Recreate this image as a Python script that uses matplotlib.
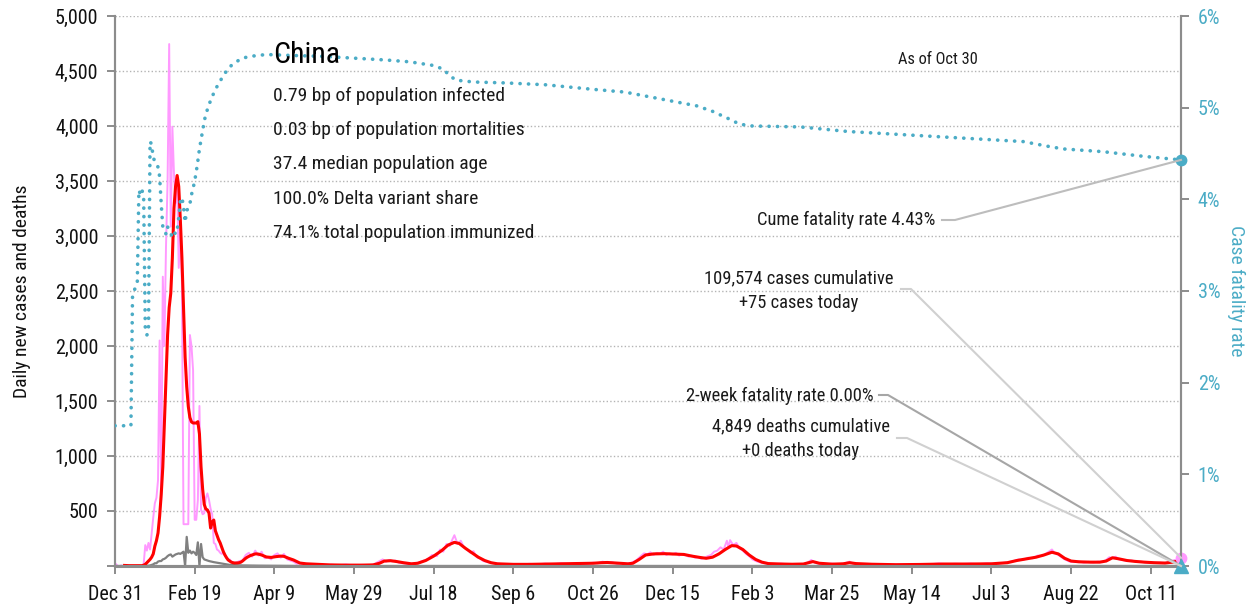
import numpy as np
import matplotlib
matplotlib.use("Agg")
import matplotlib.pyplot as plt
import matplotlib.font_manager as fm
from matplotlib.lines import Line2D

# ---------------- data ----------------
start_date = np.datetime64("2019-12-31")
tick_labels = ["Dec 31", "Feb 19", "Apr 9", "May 29", "Jul 18", "Sep 6", "Oct 26",
               "Dec 15", "Feb 3", "Mar 25", "May 14", "Jul 3", "Aug 22", "Oct 11"]
tick_days = [0, 50, 100, 150, 200, 250, 300, 350, 400, 450, 500, 550, 600, 650]

# daily new cases (pink)
case_days = list(range(0, 76)) + [
    76, 78, 80, 82, 84, 86, 88, 90, 92, 94, 96, 98, 100, 102, 104, 106, 108, 110, 112, 114, 116, 118, 120,
    124, 128, 132, 136, 140, 145, 150, 155, 160, 163, 166, 168, 170, 172, 174, 176, 178, 181, 184, 187,
    190, 193, 196, 199, 202, 204, 206, 208, 210, 212, 213, 215, 217, 219, 221, 223, 225, 227, 229, 231,
    234, 237, 240, 245, 250, 255, 260, 265, 270, 275, 280, 285, 290, 295, 300, 303, 306, 309, 312, 315,
    318, 321, 324, 327, 330, 332, 334, 336, 338, 340, 342, 344, 346, 348, 350, 352, 354, 356, 358, 360,
    362, 364, 366, 368, 370, 372, 374, 376, 378, 380, 382, 384, 385, 386, 388, 390, 392, 394, 396, 398,
    400, 403, 406, 410, 414, 418, 422, 426, 430, 434, 437, 439, 442, 446, 450, 454, 458, 461, 463, 467,
    472, 477, 482, 487, 492, 497, 502, 507, 512, 517, 522, 527, 532, 537, 542, 547, 552, 557, 561, 564,
    567, 570, 573, 576, 579, 582, 584, 586, 588, 590, 592, 594, 596, 599, 602, 605, 608, 611, 614, 617,
    620, 622, 624, 626, 628, 630, 632, 635, 638, 641, 644, 647, 650, 653, 656, 659, 662, 665, 667, 669]
daily_cases = [
    27, 10, 0, 0, 5, 0, 0, 0, 0, 0, 0, 0, 0, 0, 0, 0, 0, 0, 20, 190,
    140, 210, 150, 300, 440, 570, 620, 780, 2050, 600, 2630, 2000, 2900, 3500, 4745, 3085, 3994, 3570, 3300, 3480,
    2710, 3030, 2570, 380, 380, 380, 380, 2100, 2000, 1780, 420, 420, 600, 1455, 510, 470, 480, 620, 660, 600,
    520, 470, 210, 200, 150, 140, 120, 110, 120, 90, 80, 60, 60, 40, 35, 30,
    30, 45, 50, 100, 120, 85, 140, 95, 130, 70, 80, 60, 100, 115, 75, 110, 60, 50, 40, 20, 25, 15, 20,
    10, 18, 8, 12, 6, 14, 5, 10, 7, 20, 45, 60, 38, 55, 42, 50, 30, 25, 18, 22,
    30, 45, 60, 100, 90, 150, 130, 200, 180, 250, 280, 200, 230, 170, 150, 120, 135, 80, 70, 45,
    35, 25, 22, 15, 18, 12, 20, 14, 22, 16, 25, 18, 28, 20, 30, 25, 40, 28, 35, 20,
    28, 18, 30, 50, 90, 115, 105, 125, 100, 120, 110, 130, 100, 115, 105, 120, 95, 110, 100, 85,
    95, 75, 80, 65, 75, 90, 100, 130, 140, 170, 150, 230, 170, 235, 190, 210, 160, 140, 110, 90,
    60, 40, 28, 20, 15, 22, 15, 18, 12, 25, 55, 30, 20, 15, 22, 14, 25, 40, 22, 18,
    12, 16, 10, 14, 12, 15, 18, 12, 16, 24, 15, 20, 18, 22, 16, 24, 18, 28, 35, 45,
    60, 55, 75, 70, 95, 90, 110, 130, 150, 115, 100, 80, 60, 40, 35, 42, 30, 38, 32, 40,
    35, 55, 80, 70, 85, 60, 55, 45, 50, 38, 40, 30, 35, 28, 30, 25, 40, 55, 45, 75]

# 7-day average of cases (red)
avg_days = list(range(6, 91)) + [
    92, 95, 98, 101, 104, 106, 109, 112, 116, 120, 127, 135, 145, 155, 162, 166, 169, 173, 177, 181,
    186, 190, 195, 200, 205, 209, 213, 216, 220, 224, 228, 232, 236, 240, 250, 260, 270, 280, 290, 300,
    305, 309, 313, 318, 322, 325, 329, 333, 338, 345, 352, 357, 362, 367, 371, 375, 379, 383, 387, 390,
    394, 398, 402, 406, 410, 418, 425, 432, 438, 442, 450, 457, 461, 465, 475, 490, 505, 520, 535, 550,
    560, 566, 572, 578, 583, 588, 592, 596, 600, 605, 612, 618, 622, 626, 630, 635, 640, 646, 652, 659,
    664, 669]
avg_cases = [
    5, 4, 4, 3, 3, 3, 3, 3, 3, 3, 3, 3, 8, 15,
    30, 45, 60, 80, 110, 180, 230, 300, 450, 650, 900, 1300, 1700, 2100, 2350, 2480,
    2800, 3250, 3450, 3550, 3450, 3150, 2800, 2350, 1900, 1630, 1450, 1350, 1310, 1300, 1300, 1300,
    1312, 1200, 900, 700, 560, 518, 510, 480, 345, 400, 418, 320, 280, 240, 210, 170,
    130, 100, 75, 55, 45, 35, 30, 27, 27, 28, 30, 35, 45, 58, 70, 80, 88, 95, 100, 105,
    110, 110, 108,
    100, 82, 78, 85, 90, 88, 70, 55, 27, 20, 15, 10, 8, 8, 10, 25, 45, 48, 40, 30,
    20, 25, 50, 90, 140, 190, 215, 205, 160, 120, 80, 50, 30, 20, 15, 15, 18, 20, 22, 25,
    30, 32, 28, 22, 20, 25, 60, 100, 110, 112, 108, 105, 90, 78, 70, 80, 110, 150, 185, 182,
    150, 100, 60, 35, 22, 18, 16, 18, 40, 25, 17, 20, 30, 22, 16, 12, 14, 18, 18, 20,
    30, 50, 65, 80, 100, 125, 110, 70, 45, 38, 35, 35, 45, 75, 65, 50, 42, 35, 30, 27,
    35, 52]

# daily deaths (gray)
death_days = list(range(0, 60)) + [62, 64, 66, 68, 70, 72, 75, 80, 90, 100, 110, 120, 200, 300, 400, 500, 600, 669]
daily_deaths = [
    0, 0, 0, 0, 0, 0, 0, 0, 0, 0, 0, 0, 0, 0, 0, 0, 0, 0, 0, 0,
    2, 3, 5, 10, 15, 25, 25, 40, 45, 45, 60, 65, 75, 90, 100, 105, 85, 95, 105, 110,
    115, 110, 120, 130, 0, 265, 120, 140, 115, 130, 120, 100, 215, 0, 200, 80, 60, 55, 50, 45,
    35, 30, 25, 20, 15, 10, 8, 5, 3, 2, 1, 0, 0, 0, 0, 0, 0, 0]

# cumulative case fatality rate, %
cfr_days = list(range(0, 59)) + [
    60, 62, 64, 66, 68, 70, 73, 76, 80, 85, 95, 110, 130, 150, 170, 185, 200, 206, 210, 214,
    225, 245, 270, 300, 320, 335, 350, 365, 375, 385, 392, 400, 430, 460, 490, 520, 550, 570, 585, 595,
    620, 645, 669]
cfr_pct = [
    1.53, 1.53, 1.53, 1.53, 1.53, 1.53, 1.53, 1.53, 1.53, 1.53, 1.53,
    2.95, 3.0, 3.05, 3.1, 4.1, 4.05, 4.1, 4.0, 2.6, 2.52, 2.55, 4.63, 4.6, 4.45, 4.42, 4.4, 4.35, 4.25,
    3.95, 3.7, 3.68, 3.62, 3.7, 3.66, 3.62, 3.6, 3.65, 3.62, 3.66, 3.8, 3.98, 4.02, 3.92, 3.75, 3.88,
    3.9, 3.95, 4.05, 4.12, 4.2, 4.3, 4.42, 4.55, 4.65, 4.75, 4.85, 4.93, 4.98,
    5.08, 5.16, 5.23, 5.29, 5.35, 5.4, 5.46, 5.5, 5.54, 5.56, 5.58, 5.57, 5.56, 5.54, 5.52, 5.5, 5.46,
    5.42, 5.35, 5.3, 5.28, 5.27, 5.25, 5.2, 5.17, 5.12, 5.07, 5.02, 4.96, 4.88, 4.82, 4.8, 4.79, 4.74,
    4.71, 4.68, 4.65, 4.63, 4.58, 4.55, 4.52, 4.47, 4.43]

country = "China"
stats_lines = ["0.79 bp of population infected",
               "0.03 bp of population mortalities",
               "37.4 median population age",
               "100.0% Delta variant share",
               "74.1% total population immunized"]
as_of = "As of Oct 30"
cum_cases = 109574
cases_today = 75
cum_deaths = 4849
deaths_today = 0
cume_cfr = 4.43
two_week_cfr = 0.00

left_ticks = [0, 500, 1000, 1500, 2000, 2500, 3000, 3500, 4000, 4500, 5000]
left_tick_labels = ["", "500", "1,000", "1,500", "2,000", "2,500", "3,000", "3,500", "4,000", "4,500", "5,000"]
right_ticks = [0, 1, 2, 3, 4, 5, 6]
right_tick_labels = ["0%", "1%", "2%", "3%", "4%", "5%", "6%"]

# ---------------- font ----------------
avail = {f.name for f in fm.fontManager.ttflist}
font_family = "DejaVu Sans"
for cand in ["Roboto Condensed", "Liberation Sans Narrow", "Asap Condensed"]:
    if cand in avail:
        font_family = cand
        break
plt.rcParams["font.family"] = [font_family, "DejaVu Sans"]

# ---------------- plot ----------------
TEAL = "#4bacc6"
PINK = "#ff99ff"
RED = "#ff0000"
GRAY = "#808080"
AXC = "#8c8c8c"
TXT = "#1a1a1a"


def to_dates(days):
    return start_date + np.array(days, dtype="timedelta64[D]")


fig = plt.figure(figsize=(12.55, 6.06), dpi=100)
ax = fig.add_axes([115 / 1255, 40 / 606, 1066 / 1255, 550 / 606])
ax2 = ax.twinx()

ax.plot(to_dates(case_days), daily_cases, color=PINK, lw=1.4, zorder=2)
ax.plot(to_dates(death_days), daily_deaths, color=GRAY, lw=1.6, zorder=3)
ax.plot(to_dates(avg_days), avg_cases, color=RED, lw=2.2, zorder=4)
ax2.plot(to_dates(cfr_days), cfr_pct, color=TEAL, lw=2.6, linestyle=(0, (0.05, 2.3)),
         dash_capstyle="round", solid_capstyle="round", zorder=5)

last = to_dates([cfr_days[-1]])[0]
ax.plot([last], [cases_today], "o", color=PINK, ms=7.5, zorder=6, clip_on=False)
ax2.plot([last], [cfr_pct[-1]], "o", color=TEAL, ms=7.5, zorder=6, clip_on=False)
ax2.plot([last], [two_week_cfr], "^", color=TEAL, ms=9.5, zorder=6, clip_on=False)

ax.set_xlim(to_dates([0])[0], last)
ax.set_ylim(0, 5000)
ax2.set_ylim(0, 6)
ax.set_xticks(to_dates(tick_days))
ax.set_xticklabels(tick_labels)
ax.set_yticks(left_ticks)
ax.set_yticklabels(left_tick_labels)
ax2.set_yticks(right_ticks)
ax2.set_yticklabels(right_tick_labels)

for y in left_ticks[1:]:
    ax.axhline(y, color="#b4b4b4", lw=1.0, linestyle=(0, (1, 1.6)), zorder=1)

for a in (ax, ax2):
    a.spines["top"].set_visible(False)
    for s in ("left", "right", "bottom"):
        a.spines[s].set_color(AXC)
        a.spines[s].set_linewidth(1.5)
ax.spines["bottom"].set_linewidth(2.2)
ax.tick_params(axis="both", colors=AXC, width=1.4, length=6, labelsize=14.5, labelcolor="#111111", pad=6)
ax.tick_params(axis="x", pad=8)
ax2.tick_params(axis="y", colors=AXC, width=1.4, length=6, labelsize=14.5, labelcolor=TEAL, pad=6)

ax.set_ylabel("Daily new cases and deaths", fontsize=14, color="#111111", labelpad=17)
ax2.set_ylabel("Case fatality rate", fontsize=14, color=TEAL, rotation=270, labelpad=18)

fig.text(273 / 1255, 1 - 55 / 606, country, fontsize=21.5, color="#000000", va="center", ha="left")
for i, line in enumerate(stats_lines):
    fig.text(273 / 1255, 1 - (96 + 34.2 * i) / 606, line, fontsize=14, color=TXT, va="center", ha="left")
fig.text(898 / 1255, 1 - 60 / 606, as_of, fontsize=11.8, color=TXT, va="center", ha="left")

fig.canvas.draw()
inv = fig.transFigure.inverted()


def draw_leader(p_start_px, corner_px, axis, xy, color):
    # start / corner in figure pixels from top-left; end point is the data point
    end_disp = axis.transData.transform(xy)
    pts = np.array([[p_start_px[0], 606 - p_start_px[1]],
                    [corner_px[0], 606 - corner_px[1]],
                    [end_disp[0], end_disp[1]]])
    f = inv.transform(pts)
    fig.add_artist(Line2D(f[:, 0], f[:, 1], transform=fig.transFigure, color=color, lw=1.5, zorder=1))


ANN = 13.3
last_num = matplotlib.dates.date2num(last)
fig.text(935 / 1255, 1 - 220 / 606, f"Cume fatality rate {cume_cfr:.2f}%", fontsize=ANN, color=TXT,
         ha="right", va="center")
draw_leader((942, 220), (955, 220), ax2, (last_num, cfr_pct[-1]), "#bdbdbd")

fig.text(799 / 1255, 1 - 291 / 606, f"{cum_cases:,} cases cumulative\n+{cases_today} cases today", fontsize=ANN,
         color=TXT, ha="center", va="center", multialignment="center", linespacing=1.5)
draw_leader((901, 289), (911, 289), ax, (last_num, cases_today), "#d0d0d0")

fig.text(874 / 1255, 1 - 396 / 606, f"2-week fatality rate {two_week_cfr:.2f}%", fontsize=ANN, color=TXT,
         ha="right", va="center")
draw_leader((879, 395), (888, 395), ax2, (last_num, two_week_cfr), "#a6a6a6")

fig.text(801 / 1255, 1 - 439 / 606, f"{cum_deaths:,} deaths cumulative\n+{deaths_today} deaths today", fontsize=ANN,
         color=TXT, ha="center", va="center", multialignment="center", linespacing=1.5)
draw_leader((897, 438), (907, 438), ax, (last_num, 0), "#d0d0d0")

fig.savefig("out.png", dpi=100)
